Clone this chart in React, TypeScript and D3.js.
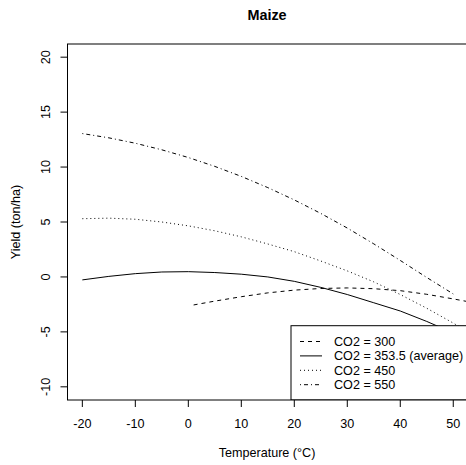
import React from "react";
import * as d3 from "d3";

const temps300 = [1, 5, 10, 15, 20, 25, 30, 35, 40, 45, 50, 52.8];
const yield300 = [-2.55, -2.2, -1.8, -1.45, -1.2, -1.05, -1.0, -1.07, -1.25, -1.58, -2.0, -2.25];

const tempsFull = [-20, -15, -10, -5, 0, 5, 10, 15, 20, 25, 30, 35, 40, 45, 50, 52.8];
const yield353 = [-0.27, 0.05, 0.3, 0.45, 0.48, 0.4, 0.25, 0.0, -0.4, -0.95, -1.6, -2.35, -3.1, -4.05, -5.1, -5.7];
const yield450 = [5.3, 5.35, 5.25, 5.0, 4.65, 4.2, 3.65, 3.0, 2.3, 1.45, 0.55, -0.45, -1.6, -2.85, -4.2, -5.0];

const temps550 = [-20, -15, -10, -5, 0, 5, 10, 15, 20, 25, 30, 35, 40, 45, 50];
const yield550 = [13.05, 12.66, 12.17, 11.57, 10.87, 10.06, 9.15, 8.13, 7.01, 5.78, 4.45, 3.01, 1.5, -0.05, -1.55];

const xTicks = [-20, -10, 0, 10, 20, 30, 40, 50];
const yTicks = [-10, -5, 0, 5, 10, 15, 20];

const legendLabels = ["CO2 = 300", "CO2 = 353.5 (average)", "CO2 = 450", "CO2 = 550"];
const dashes = ["4,4", "", "1,3", "1,3,4,3"];

export default function App() {
  const W = 466, H = 465;
  const left = 67.5, right = 468.1, top = 44, bottom = 400;
  const x = d3.scaleLinear().domain([-22.8, 52.8]).range([left, right]);
  const y = d3.scaleLinear().domain([-11.2, 21.2]).range([bottom, top]);
  const line = d3.line<[number, number]>().x(d => x(d[0])).y(d => y(d[1]));
  const series: [number[], number[]][] = [
    [temps300, yield300],
    [tempsFull, yield353],
    [tempsFull, yield450],
    [temps550, yield550],
  ];
  const font = "'Liberation Sans', Arial, sans-serif";
  const fs = 12.6;
  const legX = 291, legTop = 325.7;
  const rowY = (i: number) => 341.5 + i * 14.4;
  return (
    <svg width={W} height={H} style={{ position: "absolute", left: 0, top: 0, background: "#fff" }} fontFamily={font}>
      <defs>
        <clipPath id="plotclip">
          <rect x={left} y={top} width={right - left} height={bottom - top} />
        </clipPath>
      </defs>
      <rect x={0} y={0} width={W} height={H} fill="#fff" />
      <text x={267} y={19.5} textAnchor="middle" fontSize={14.4} fontWeight="bold">Maize</text>
      <g clipPath="url(#plotclip)">
        {series.map(([xs, ys], i) => (
          <path key={i} d={line(xs.map((t, j) => [t, ys[j]] as [number, number])) || ""}
            fill="none" stroke="#000" strokeWidth={1} strokeDasharray={dashes[i] || undefined} />
        ))}
        <rect x={legX} y={legTop} width={right - legX} height={bottom - legTop} fill="#fff" stroke="#000" strokeWidth={1} />
        {legendLabels.map((lab, i) => (
          <g key={lab}>
            <line x1={300} x2={322} y1={rowY(i)} y2={rowY(i)} stroke="#000" strokeWidth={1} strokeDasharray={dashes[i] || undefined} />
            <text x={334} y={rowY(i) + 4.5} fontSize={fs}>{lab}</text>
          </g>
        ))}
      </g>
      <rect x={left} y={top} width={right - left} height={bottom - top} fill="none" stroke="#000" strokeWidth={1} />
      {xTicks.map(t => (
        <g key={t}>
          <line x1={x(t)} x2={x(t)} y1={bottom} y2={bottom + 7} stroke="#000" />
          <text x={x(t)} y={427.5} textAnchor="middle" fontSize={fs}>{t}</text>
        </g>
      ))}
      {yTicks.map(t => (
        <g key={t}>
          <line x1={left - 7} x2={left} y1={y(t)} y2={y(t)} stroke="#000" />
          <text transform={`translate(49.5,${y(t)}) rotate(-90)`} textAnchor="middle" fontSize={fs}>{t}</text>
        </g>
      ))}
      <text x={267} y={457} textAnchor="middle" fontSize={fs}>Temperature (°C)</text>
      <text transform={`translate(20,222) rotate(-90)`} textAnchor="middle" fontSize={fs}>Yield (ton/ha)</text>
    </svg>
  );
}
